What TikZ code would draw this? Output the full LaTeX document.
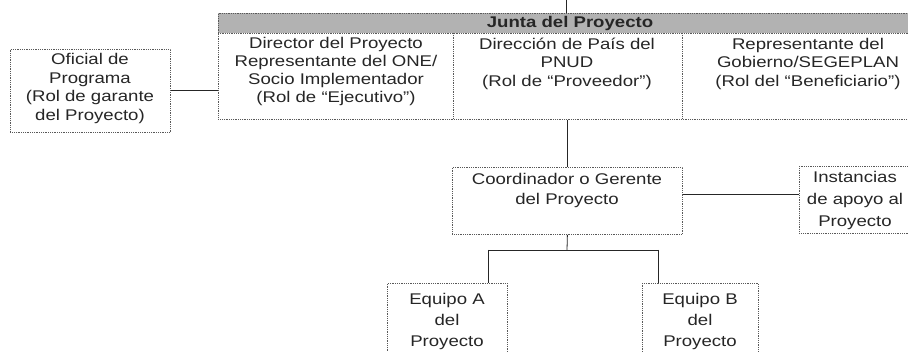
\documentclass[tikz,border=0pt]{standalone}
\usepackage{fontspec}
\setmainfont{Liberation Sans}[FakeStretch=1.2]
\tikzset{
  box/.style={draw=black!65, densely dotted, line width=0.8pt},
  conn/.style={draw=black!85, line width=0.8pt},
  txt/.style={align=center, text=black!85, inner sep=0pt},
}
\newcommand{\fs}[1]{\fontsize{15.5}{#1}\selectfont}
\begin{document}
\begin{tikzpicture}[x=1pt,y=-1pt]
\useasboundingbox (0,0) rectangle (908,352);
\clip (0,0) rectangle (908,352);
\fill[white] (0,0) rectangle (908,352);

% Junta del Proyecto
\node[fill=black!30, minimum width=717pt, minimum height=20pt, anchor=north west, inner sep=0pt] (band) at (218,13) {};
\node[box, minimum width=717pt, minimum height=106pt, anchor=north west, inner sep=0pt] (junta) at (218,13) {};
\draw[box] (218,33) -- (935,33);
\node[txt, font=\fs{18}\bfseries] (juntat) at (570,23.5) {Junta del Proyecto};
\draw[box] (453,33) -- (453,119);
\draw[box] (682,33) -- (682,119);
\node[txt, font=\fs{18}] (dir) at (336,71) {Director del Proyecto\\Representante del ONE/\\Socio Implementador\\(Rol de “Ejecutivo”)};
\node[txt, font=\fs{18.5}] (pnud) at (567,63.5) {Dirección de País del\\PNUD\\(Rol de “Proveedor”)};
\node[txt, font=\fs{18.5}] (gob) at (808,63.5) {Representante del\\Gobierno/SEGEPLAN\\(Rol del “Beneficiario”)};

% Oficial de Programa
\node[box, minimum width=160pt, minimum height=83pt, anchor=north west, inner sep=0pt] (ofi) at (10,49) {};
\node[txt, font=\fs{18.7}] (ofit) at (90,88.5) {Oficial de\\Programa\\(Rol de garante\\del Proyecto)};

% Coordinador
\node[box, minimum width=230pt, minimum height=67pt, anchor=north west, inner sep=0pt] (coord) at (452,167) {};
\node[txt, font=\fs{20}] (coordt) at (567,190) {Coordinador o Gerente\\del Proyecto};

% Instancias
\node[box, minimum width=125pt, minimum height=67pt, anchor=north west, inner sep=0pt] (inst) at (799,166) {};
\node[txt, font=\fs{22}] (instt) at (855,200) {Instancias\\de apoyo al\\Proyecto};

% Equipos
\node[box, minimum width=120pt, minimum height=80pt, anchor=north west, inner sep=0pt] (eqa) at (387,283) {};
\node[txt, font=\fs{21}] (eqat) at (447,321) {Equipo A\\del\\Proyecto};
\node[box, minimum width=116pt, minimum height=80pt, anchor=north west, inner sep=0pt] (eqb) at (642,283) {};
\node[txt, font=\fs{21}] (eqbt) at (700,321) {Equipo B\\del\\Proyecto};

% Connectors
\coordinate (topend) at (566,0);
\draw[conn] (topend) -- (topend |- junta.north);
\draw[conn] (ofi.east) -- (ofi.east -| junta.west);
\draw[conn] (coord.north) -- (coord.north |- junta.south);
\coordinate (cE) at ([yshift=6.5pt]coord.east);
\draw[conn] (cE) -- (cE -| inst.west);
\coordinate (split) at (567,250);
\coordinate (ja) at (488,250);
\coordinate (jb) at (658,250);
\draw[conn] (coord.south) -- (split);
\draw[conn] (ja) -- (jb);
\draw[conn] (ja) -- (ja |- eqa.north);
\draw[conn] (jb) -- (jb |- eqb.north);
\end{tikzpicture}
\end{document}
